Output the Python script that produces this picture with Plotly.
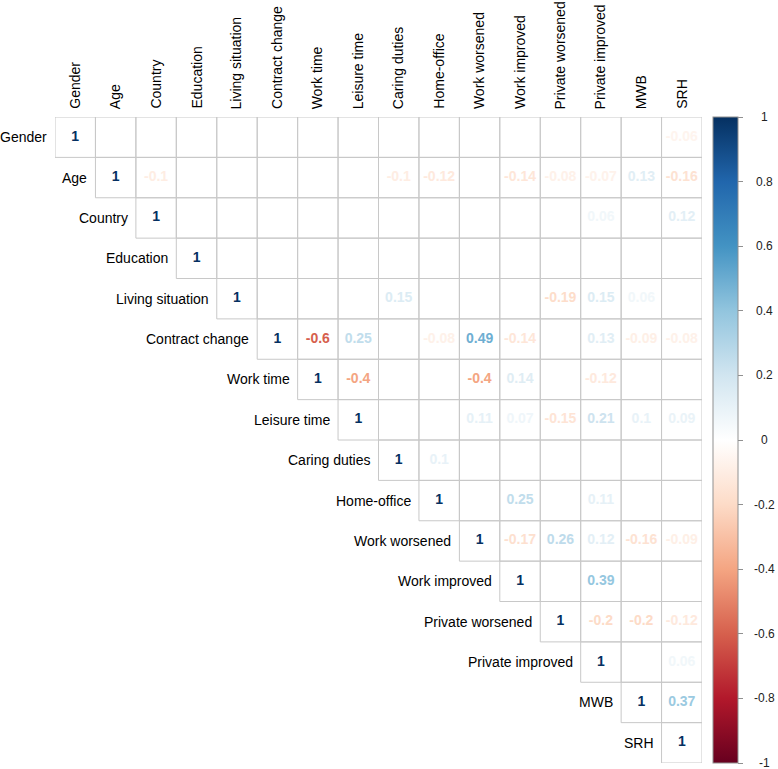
import plotly.graph_objects as go

labels = ["Gender", "Age", "Country", "Education", "Living situation", "Contract change",
          "Work time", "Leisure time", "Caring duties", "Home-office", "Work worsened",
          "Work improved", "Private worsened", "Private improved", "MWB", "SRH"]

N = None
# upper-triangle rows, each starting at the diagonal
r_gender = [1, N, N, N, N, N, N, N, N, N, N, N, N, N, N, -0.06]
r_age = [1, -0.1, N, N, N, N, N, -0.1, -0.12, N, -0.14, -0.08, -0.07, 0.13, -0.16]
r_country = [1, N, N, N, N, N, N, N, N, N, N, 0.06, N, 0.12]
r_education = [1, N, N, N, N, N, N, N, N, N, N, N, N]
r_living = [1, N, N, N, 0.15, N, N, N, -0.19, 0.15, 0.06, N]
r_contract = [1, -0.6, 0.25, N, -0.08, 0.49, -0.14, N, 0.13, -0.09, -0.08]
r_worktime = [1, -0.4, N, N, -0.4, 0.14, N, -0.12, N, N]
r_leisure = [1, N, N, 0.11, 0.07, -0.15, 0.21, 0.1, 0.09]
r_caring = [1, 0.1, N, N, N, N, N, N]
r_home = [1, N, 0.25, N, 0.11, N, N]
r_wworse = [1, -0.17, 0.26, 0.12, -0.16, -0.09]
r_wimpr = [1, N, 0.39, N, N]
r_pworse = [1, -0.2, -0.2, -0.12]
r_pimpr = [1, N, 0.06]
r_mwb = [1, 0.37]
r_srh = [1]

rows = [r_gender, r_age, r_country, r_education, r_living, r_contract, r_worktime,
        r_leisure, r_caring, r_home, r_wworse, r_wimpr, r_pworse, r_pimpr, r_mwb, r_srh]

cb_ticks = [-1, -0.8, -0.6, -0.4, -0.2, 0, 0.2, 0.4, 0.6, 0.8, 1]

pal = ["#67001F", "#B2182B", "#D6604D", "#F4A582", "#FDDBC7", "#FFFFFF",
       "#D1E5F0", "#92C5DE", "#4393C3", "#2166AC", "#053061"]
colorscale = [[i / (len(pal) - 1), c] for i, c in enumerate(pal)]


def hex2rgb(h):
    h = h.lstrip("#")
    return tuple(int(h[k:k + 2], 16) for k in (0, 2, 4))


def val2color(v):
    t = (v + 1) / 2 * (len(pal) - 1)
    i = min(int(t), len(pal) - 2)
    f = t - i
    a, b = hex2rgb(pal[i]), hex2rgb(pal[i + 1])
    c = [round(a[k] + (b[k] - a[k]) * f) for k in range(3)]
    return f"rgb({c[0]},{c[1]},{c[2]})"


n = len(labels)
W, H = 778, 769
left_px, right_px = 55, 702
top_px, bot_px = 117, 763
cb_left, cb_thick = 713, 25
ydom = [1 - bot_px / H, 1 - top_px / H]

fig = go.Figure()

shapes = []
tx, ty, tt, tc = [], [], [], []
for i, row in enumerate(rows):
    for k, v in enumerate(row):
        j = i + k
        shapes.append(dict(type="rect", xref="x", yref="y", x0=j - 0.5, x1=j + 0.5,
                           y0=i - 0.5, y1=i + 0.5, line=dict(color="#C8C8C8", width=1),
                           fillcolor="rgba(0,0,0,0)", layer="below"))
        if v is not None:
            tx.append(j)
            ty.append(i)
            tt.append(format(v, "g"))
            tc.append(val2color(v))

fig.add_trace(go.Scatter(x=tx, y=ty, text=tt, mode="text", hoverinfo="skip",
                         textfont=dict(color=tc, size=14, family="Liberation Sans", weight="bold"),
                         showlegend=False))

fig.add_trace(go.Scatter(x=[0], y=[0], xaxis="x", yaxis="y2", mode="markers",
                         hoverinfo="skip", showlegend=False,
                         marker=dict(size=0.1, opacity=0, color=[0], cmin=-1, cmax=1,
                                     colorscale=colorscale, showscale=True,
                                     colorbar=dict(
                                         x=cb_left / W, xanchor="left", xpad=0, ypad=0,
                                         y=1 - (top_px + bot_px) / 2 / H, yanchor="middle",
                                         lenmode="pixels", len=bot_px - top_px,
                                         thickness=cb_thick, thicknessmode="pixels",
                                         outlinecolor="#909090", outlinewidth=1,
                                         ticks="outside", ticklen=5, tickcolor="#909090",
                                         tickvals=cb_ticks, showticklabels=False,
                                     ))))

ann = []
for j, lab in enumerate(labels):
    ann.append(dict(x=j, y=-0.5, xref="x", yref="y", text=lab, showarrow=False,
                    textangle=-90, xanchor="center", yanchor="bottom", yshift=6,
                    font=dict(size=14, family="Liberation Sans", color="black")))
    ann.append(dict(x=j - 0.5, y=j, xref="x", yref="y", text=lab, showarrow=False,
                    xanchor="right", yanchor="middle", xshift=-6,
                    font=dict(size=14, family="Liberation Sans", color="black")))
for t in cb_ticks:
    ann.append(dict(x=(cb_left + cb_thick + 26) / W, y=t, xref="paper", yref="y2",
                    text=format(t, "g"), showarrow=False, xanchor="center", yanchor="middle",
                    font=dict(size=12, family="Liberation Sans", color="#222222")))

fig.update_layout(
    width=W, height=H, margin=dict(l=0, r=0, t=0, b=0),
    paper_bgcolor="white", plot_bgcolor="white",
    shapes=shapes, annotations=ann,
    xaxis=dict(domain=[left_px / W, right_px / W], range=[-0.5, n - 0.5],
               visible=False, fixedrange=True),
    yaxis=dict(domain=ydom, range=[n - 0.5, -0.5], visible=False, fixedrange=True),
    yaxis2=dict(domain=ydom, range=[-1, 1], visible=False, fixedrange=True,
                anchor="x", overlaying="y"),
)

fig.write_html("out.html", config={"displayModeBar": False},
               post_script="document.body.style.margin='0';")
